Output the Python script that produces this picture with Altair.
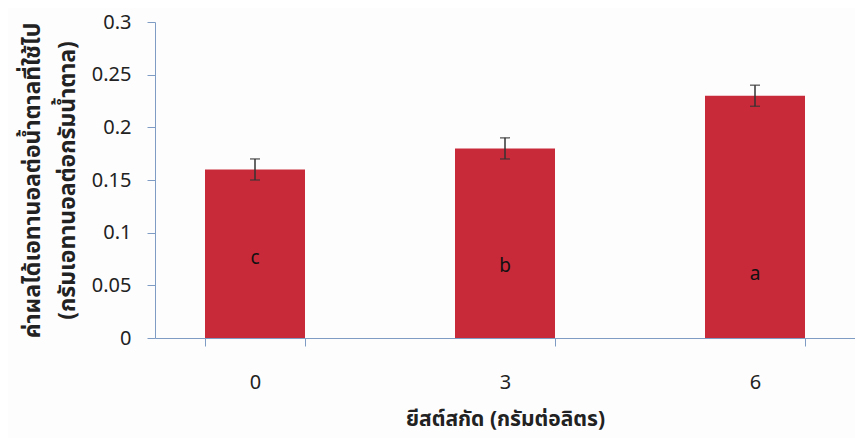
import altair as alt
import pandas as pd

categories = ["0", "3", "6"]
values = [0.16, 0.18, 0.23]
errors = [0.01, 0.01, 0.01]
letters = ["c", "b", "a"]
letter_heights = [0.076, 0.068, 0.061]

df = pd.DataFrame({
    "yeast": categories,
    "value": values,
    "lo": [v - e for v, e in zip(values, errors)],
    "hi": [v + e for v, e in zip(values, errors)],
    "letter": letters,
    "lh": letter_heights,
})

FONT = "Noto Sans Thai, Tahoma, Noto Sans, DejaVu Sans, sans-serif"
AXIS_COLOR = "#7f9cc4"
YSCALE = alt.Scale(domain=[0, 0.3])

x = alt.X(
    "yeast:N",
    sort=categories,
    scale=alt.Scale(paddingInner=0.6, paddingOuter=0.2),
    axis=alt.Axis(
        title="ยีสต์สกัด (กรัมต่อลิตร)",
        labelAngle=0,
        labelFontSize=20,
        labelFont=FONT,
        labelColor="#222222",
        labelPadding=26,
        titleFontSize=21,
        titleFont=FONT,
        titleColor="#222222",
        titlePadding=16,
        domainColor=AXIS_COLOR,
        tickColor=AXIS_COLOR,
        tickSize=8,
        tickBand="extent",
    ),
)

base = alt.Chart(df).encode(x=x)

bars = base.mark_bar(color="#c92a3a").encode(
    y=alt.Y(
        "value:Q",
        scale=YSCALE,
        axis=alt.Axis(
            title=["ค่าผลได้เอทานอลต่อน้ำตาลที่ใช้ไป", "(กรัมเอทานอลต่อกรัมน้ำตาล)"],
            values=[0, 0.05, 0.1, 0.15, 0.2, 0.25, 0.3],
            format=".2~f",
            grid=False,
            labelFontSize=20,
            labelFont=FONT,
            labelColor="#222222",
            labelPadding=16,
            titleFontSize=23,
            titleFont=FONT,
            titleColor="#222222",
            titleLineHeight=35,
            titlePadding=12,
            domainColor=AXIS_COLOR,
            tickColor=AXIS_COLOR,
            tickSize=8,
        ),
    )
)

err = base.mark_errorbar(ticks=alt.MarkConfig(size=10), color="#333333", thickness=1.5).encode(
    y=alt.Y("lo:Q", scale=YSCALE, axis=None),
    y2="hi:Q",
)

labels = base.mark_text(fontSize=19, font=FONT, color="#111111").encode(
    y=alt.Y("lh:Q", scale=YSCALE, axis=None),
    text="letter:N",
)

chart = (
    alt.layer(bars, err, labels)
    .resolve_axis(y="independent")
    .properties(
        width=700,
        height=316,
        autosize=alt.AutoSizeParams(type="none"),
        padding={"left": 147, "top": 14, "right": 0, "bottom": 100},
        background="#fdfdfe",
    )
    .configure_view(stroke=None)
)

chart.save("out.html", embed_options={"renderer": "svg", "actions": False})
